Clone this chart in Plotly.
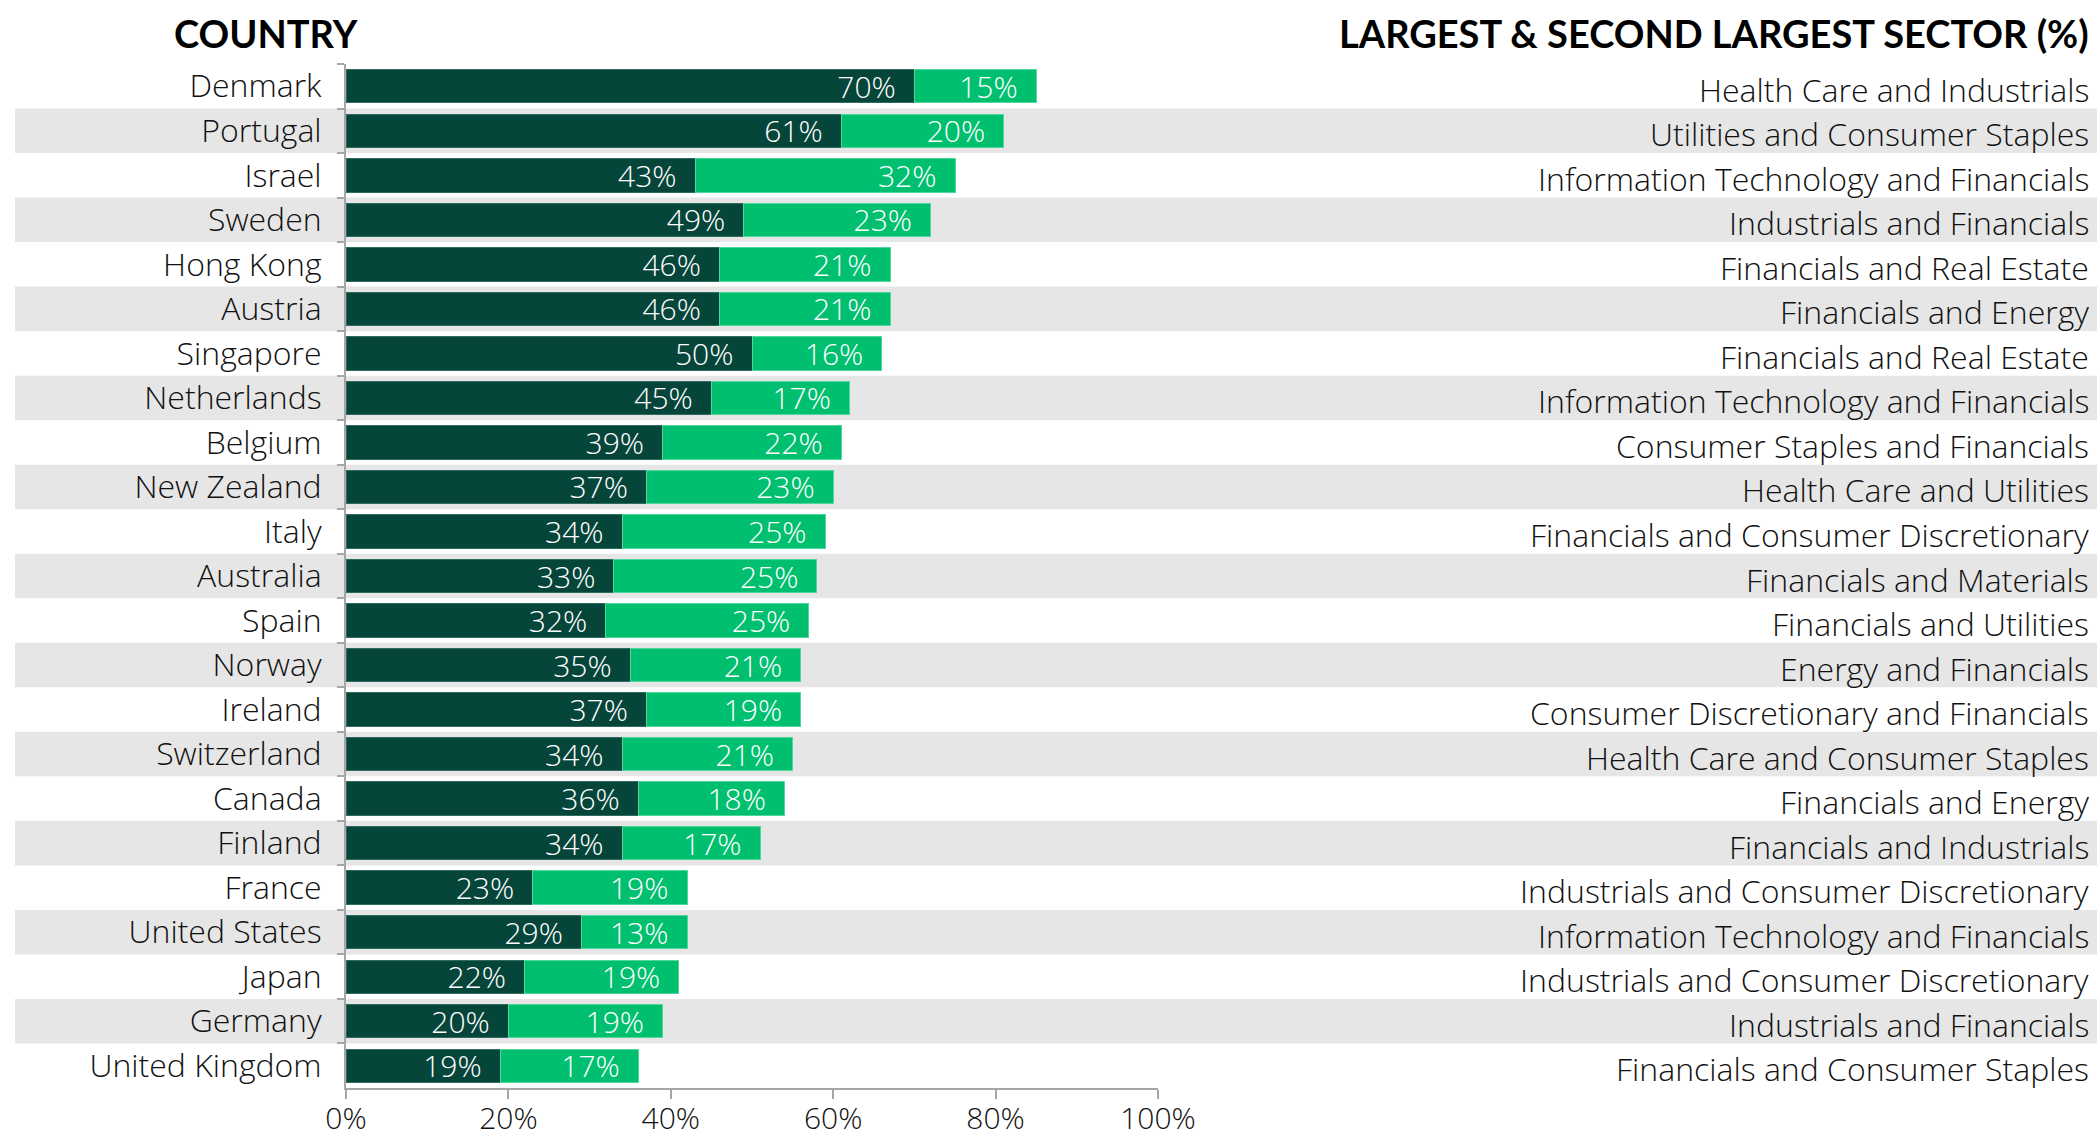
import plotly.graph_objects as go

countries = ["Denmark", "Portugal", "Israel", "Sweden", "Hong Kong", "Austria", "Singapore",
             "Netherlands", "Belgium", "New Zealand", "Italy", "Australia", "Spain", "Norway",
             "Ireland", "Switzerland", "Canada", "Finland", "France", "United States", "Japan",
             "Germany", "United Kingdom"]
largest = [70, 61, 43, 49, 46, 46, 50, 45, 39, 37, 34, 33, 32, 35, 37, 34, 36, 34, 23, 29, 22, 20, 19]
second = [15, 20, 32, 23, 21, 21, 16, 17, 22, 23, 25, 25, 25, 21, 19, 21, 18, 17, 19, 13, 19, 19, 17]
sectors = ["Health Care and Industrials", "Utilities and Consumer Staples",
           "Information Technology and Financials", "Industrials and Financials",
           "Financials and Real Estate", "Financials and Energy", "Financials and Real Estate",
           "Information Technology and Financials", "Consumer Staples and Financials",
           "Health Care and Utilities", "Financials and Consumer Discretionary",
           "Financials and Materials", "Financials and Utilities", "Energy and Financials",
           "Consumer Discretionary and Financials", "Health Care and Consumer Staples",
           "Financials and Energy", "Financials and Industrials",
           "Industrials and Consumer Discretionary", "Information Technology and Financials",
           "Industrials and Consumer Discretionary", "Industrials and Financials",
           "Financials and Consumer Staples"]
x_ticks = [0, 20, 40, 60, 80, 100]
x_ticktext = ["0%", "20%", "40%", "60%", "80%", "100%"]

W, H = 2097, 1139
L, R, T, B = 346, 2097 - 1158, 64, 1139 - 1088
PW = W - L - R
PH = H - T - B

def px_to_paper_x(px):
    return (px - L) / PW

FONT = "Open Sans"
HFONT = "Lato"
DARK = "#06453a"
LIGHT = "#00bf6f"
NB = "\u00a0"
TXT = "#111111"

fig = go.Figure()
fig.add_trace(go.Bar(
    y=countries, x=largest, orientation="h",
    marker=dict(color=DARK, line=dict(width=1, color="#2f6b5f")),
    text=[f"{v}%" + NB * 2 for v in largest], texttemplate="%{text}",
    textposition="inside", insidetextanchor="end",
    textfont=dict(color="white", size=30, family=FONT, weight=300), name="Largest",
    cliponaxis=False, hoverinfo="x+y",
))
fig.add_trace(go.Bar(
    y=countries, x=second, orientation="h",
    marker=dict(color=LIGHT, line=dict(width=1, color="#4fd89c")),
    text=[f"{v}%" + NB * 2 for v in second], texttemplate="%{text}",
    textposition="inside", insidetextanchor="end",
    textfont=dict(color="white", size=30, family=FONT, weight=300), name="Second",
    cliponaxis=False, hoverinfo="x+y",
))

shapes = []
for i, c in enumerate(countries):
    if i % 2 == 1:
        shapes.append(dict(type="rect", xref="paper", yref="y",
                           x0=px_to_paper_x(15), x1=px_to_paper_x(W + 5),
                           y0=i - 0.5, y1=i + 0.5, fillcolor="#e6e6e6",
                           line=dict(width=0), layer="below"))

annotations = []
for c, s in zip(countries, sectors):
    annotations.append(dict(xref="paper", yref="y", x=px_to_paper_x(2091), y=c, text=s,
                            xanchor="right", yanchor="middle", showarrow=False, yshift=-3,
                            font=dict(family=FONT, size=32, color=TXT, weight=300)))
hy = 1 + (T - 33) / PH
annotations.append(dict(xref="paper", yref="paper", x=px_to_paper_x(266), y=hy,
                        text="<b>COUNTRY</b>", xanchor="center", yanchor="middle", showarrow=False,
                        font=dict(family=HFONT, size=38, color="#000000")))
annotations.append(dict(xref="paper", yref="paper", x=px_to_paper_x(2091), y=hy,
                        text="<b>LARGEST & SECOND LARGEST SECTOR (%)</b>", xanchor="right", yanchor="middle",
                        showarrow=False, font=dict(family=HFONT, size=38, color="#000000")))

fig.update_layout(
    width=W, height=H, autosize=False,
    margin=dict(l=L, r=R, t=T, b=B, pad=0, autoexpand=False),
    barmode="stack", bargap=0.25, showlegend=False,
    paper_bgcolor="white", plot_bgcolor="rgba(0,0,0,0)",
    shapes=shapes, annotations=annotations,
    uniformtext=dict(minsize=29, mode="show"),
    font=dict(family=FONT, color=TXT),
)
fig.update_xaxes(range=[0, 100], tickvals=x_ticks, ticktext=x_ticktext, showgrid=False, zeroline=False,
                 automargin=False,
                 showline=True, linecolor="#a6a6a6", linewidth=2, ticks="outside", ticklen=9,
                 tickcolor="#a6a6a6", tickwidth=2, ticklabelstandoff=-6,
                 tickfont=dict(family=FONT, size=30, color=TXT, weight=300))
fig.update_yaxes(categoryorder="array", categoryarray=countries, range=[len(countries) - 0.5, -0.5],
                 automargin=False,
                 showgrid=False, zeroline=False, showline=True, linecolor="#a6a6a6", linewidth=2,
                 ticks="outside", ticklen=7, tickcolor="#a6a6a6", tickwidth=2, tickson="boundaries",
                 ticklabelstandoff=16,
                 tickfont=dict(family=FONT, size=32, color=TXT, weight=300))

fig.write_html("out.html")
